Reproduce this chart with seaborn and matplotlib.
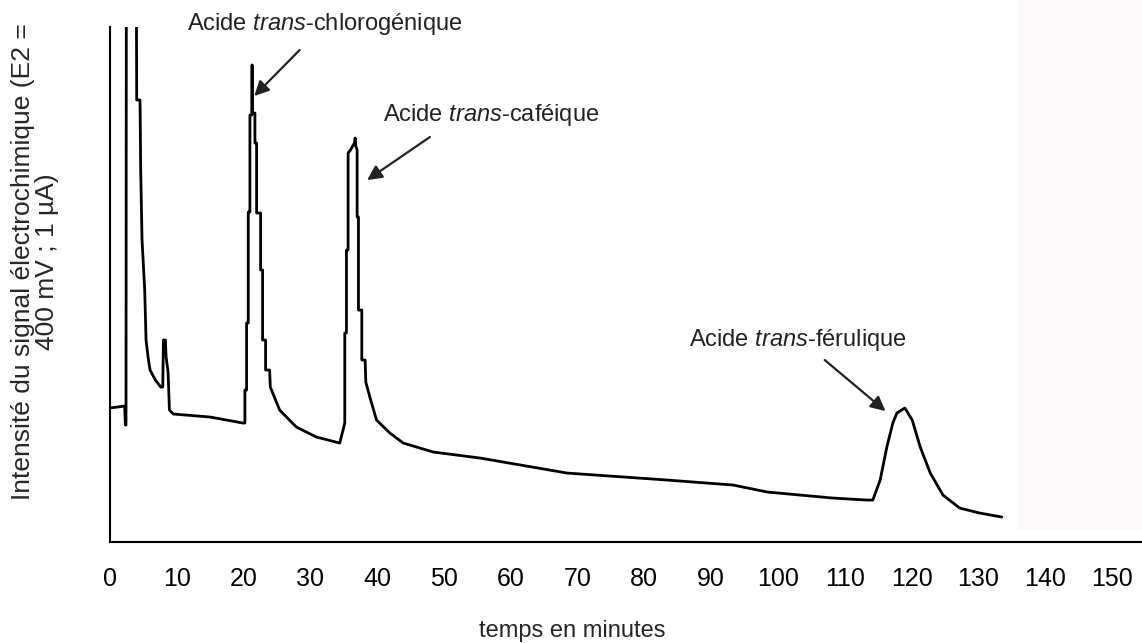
import matplotlib
matplotlib.use("Agg")
import matplotlib.pyplot as plt
import seaborn as sns
from matplotlib.patches import Rectangle

# chromatogram (time in minutes, signal in arbitrary units)
temps = [0.0, 2.2, 2.3, 2.4, 2.45, 3.95, 4.0, 4.5, 4.6, 4.8, 5.2, 5.4, 5.7, 6.0,
         6.8, 7.6, 7.9, 8.0, 8.3, 8.4, 8.7, 8.9, 9.5, 15.0, 19.9,
         20.2, 20.2, 20.45, 20.45, 20.7, 20.7, 20.95, 20.95, 21.25, 21.25,
         21.3, 21.3, 21.7, 21.7, 21.95, 21.95, 22.55, 22.55, 22.85, 22.85,
         23.3, 23.3, 23.9, 24.0, 25.4, 27.9, 30.9, 34.4,
         35.15, 35.15, 35.4, 35.4, 35.65, 35.65, 36.0, 36.6, 36.7, 36.8,
         37.0, 37.0, 37.2, 37.2, 37.7, 37.7, 38.2, 38.3, 38.9, 39.9, 41.9, 43.9,
         48.4, 55.4, 68.4, 83.4, 93.3, 98.4, 108.2, 113.3, 114.2, 115.3, 116.3,
         117.2, 117.8, 119.0, 120.1, 121.3, 122.8, 124.7, 127.2, 130.2, 133.5]
signal = [134, 136, 117, 117, 560, 560, 442, 442, 372, 302, 252, 202, 185, 172,
          162, 155, 155, 202, 202, 185, 170, 132, 128, 125, 119,
          119, 152, 152, 219, 219, 330, 330, 427, 427, 477,
          477, 429, 429, 399, 399, 329, 329, 272, 272, 202,
          202, 172, 172, 155, 132, 115, 105, 99,
          119, 209, 209, 292, 292, 389, 392, 399, 404, 396,
          392, 325, 325, 232, 232, 182, 182, 160, 145, 122, 109, 99,
          90, 84, 69, 62, 57, 50, 44, 42, 42, 62, 95,
          119, 129, 134, 122, 95, 69, 47, 34, 29, 25]

x_ticks = list(range(0, 160, 10))

# peak labels: (text, text position, arrow start, arrow tip)
pics = [
    ("Acide $\\mathit{trans}$-chlorogénique", (32.2, 518), (28.4, 492), (21.6, 446)),
    ("Acide $\\mathit{trans}$-caféique", (57.0, 427), (47.9, 405), (38.5, 362)),
    ("Acide $\\mathit{trans}$-férulique", (103.0, 202), (107.0, 182), (116.1, 131)),
]

sns.set_style("white")
plt.rcParams["font.family"] = ["Liberation Sans", "DejaVu Sans"]
plt.rcParams["mathtext.fontset"] = "custom"
plt.rcParams["mathtext.rm"] = "Liberation Sans"
plt.rcParams["mathtext.it"] = "Liberation Sans:italic"

fig = plt.figure(figsize=(11.42, 6.43), dpi=100)
# faint pinkish patch on the right side of the original image
fig.patches.append(Rectangle((0.8906, 0.176), 0.11, 0.824, transform=fig.transFigure,
                             facecolor="#fdf9fa", edgecolor="none", zorder=-1))
ax = fig.add_axes([0.0963, 0.157, 0.9037, 0.801])
ax.patch.set_alpha(0)

sns.lineplot(x=temps, y=signal, estimator=None, sort=False, color="black",
             linewidth=2.0, ax=ax)

ax.set_xlim(0, 154.5)
ax.set_ylim(0, 515)
ax.set_xticks(x_ticks)
ax.set_yticks([])
ax.tick_params(axis="x", direction="out", length=6, width=1.4, pad=12,
               labelsize=18, colors="black")
for side in ["top", "right"]:
    ax.spines[side].set_visible(False)
for side in ["left", "bottom"]:
    ax.spines[side].set_linewidth(1.5)
    ax.spines[side].set_color("black")

ax.set_xlabel("temps en minutes", fontsize=17)
ax.xaxis.set_label_coords(0.448, -0.152)
ax.set_ylabel("Intensité du signal électrochimique (E2 =\n400 mV ; 1 µA)",
              fontsize=19, linespacing=1.0)
ax.yaxis.label.set_va("center")
ax.yaxis.set_label_coords(-0.073, 0.544)

for texte, pos, debut, pointe in pics:
    ax.text(pos[0], pos[1], texte, fontsize=17, ha="center", va="center",
            color="#222222", clip_on=False)
    ax.annotate("", xy=pointe, xytext=debut, annotation_clip=False,
                arrowprops=dict(arrowstyle="-|>", color="#222222", lw=1.6,
                                mutation_scale=22, shrinkA=0, shrinkB=0))

fig.savefig("out.png", dpi=100)
